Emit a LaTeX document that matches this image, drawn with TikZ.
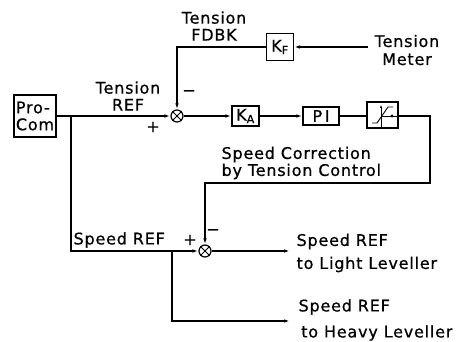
\documentclass[tikz,border=0pt]{standalone}
\usepackage{fontspec}
\setmainfont[LetterSpace=5, FakeBold=0.7]{DejaVu Sans}
\usetikzlibrary{arrows.meta, positioning, calc}

\begin{document}
\begin{tikzpicture}[x=1pt, y=-1pt, line width=1.2pt,
    >={Latex[length=6pt,width=3.5pt]},
    block/.style={draw, line width=1.2pt, inner sep=1pt, font=\fontsize{16}{17}\selectfont},
    sumpt/.style={draw, circle, line width=1.2pt, minimum size=12pt, inner sep=0pt},
    lbl/.style={font=\fontsize{16}{17}\selectfont, align=center, inner sep=0pt}
]
    \useasboundingbox (0,0) rectangle (474,342);

    % Blocks
    \node[block, minimum width=42pt, minimum height=42pt, align=left] (pc) at (35,116) {Pro-\\Com};
    \node[sumpt] (s1) at (177,116) {};
    \node[block, minimum width=27pt, minimum height=20pt] (ka) at (245.5,116) {K\textsubscript{A}};
    \node[block, minimum width=36pt, minimum height=18pt] (pi) at (321,116) {P\,I};
    \node[block, minimum width=31pt, minimum height=26pt] (lim) at (382.5,115) {};
    \node[block, minimum width=27pt, minimum height=27pt] (kf) at (280,47) {K\textsubscript{F}};
    \node[sumpt] (s2) at (205,251) {};

    % Crosses in the summing points
    \foreach \s in {s1, s2} {
        \draw[line width=0.9pt] (\s.north east) -- (\s.south west);
        \draw[line width=0.9pt] (\s.north west) -- (\s.south east);
    }

    % Limiter curve
    \draw[line width=0.9pt] (372,123) -- (377,123) -- (388,107) -- (393,107);
    \draw[line width=0.9pt, -{Latex[length=3pt,width=2.5pt]}] (381,127) -- (381,105);
    \draw[line width=0.9pt] (381,116) -- (lim.east |- 0,116);
    \fill (392,116) circle (1.6pt);

    % Free ends
    \coordinate (meter) at (368,47);
    \coordinate (br1) at (71,116);
    \coordinate (br2) at (172,251);
    \coordinate (rc) at (430,183);
    \coordinate (lightend) at (290,251);
    \coordinate (heavyend) at (290,321);

    % Connectors
    \draw[->] (pc.east |- s1) -- (s1.west);
    \draw[->] (s1.east) -- (ka.west);
    \draw[->] (ka.east) -- (pi.west);
    \draw (pi.east) -- (lim.west |- pi.east);
    \draw[->] (lim.east |- 0,116) -| (rc) -| (s2.north);
    \draw[->] (meter) -- (kf.east);
    \draw[->] (kf.west) -| (s1.north);
    \draw[->] (br1) |- (s2.west);
    \draw[->] (s2.east) -- (lightend);
    \draw[->] (br2) |- (heavyend);

    % Labels
    \node[lbl] (tref) at (128,96) {Tension\\REF};
    \node[lbl] (tfdbk) at (214,26) {Tension\\FDBK};
    \node[lbl] (tmeter) at (407,50) {Tension\\[1pt]Meter};
    \node[lbl, align=left, anchor=west] (corr) at (221,163) {Speed Correction\\by Tension Control};
    \node[lbl, anchor=west] (sref) at (73,240) {Speed REF};
    \node[lbl, align=left, anchor=west] (ltxt) at (296,253) {Speed REF\\[6pt]to Light Leveller};
    \node[lbl, align=left, anchor=west] (htxt) at (298,320) {Speed REF\\[9pt]\,to Heavy Leveller};
    \node[lbl] (p1) at (153,127) {+};
    \node[lbl] (m1) at (189,93) {−};
    \node[lbl] (p2) at (190,240) {+};
    \node[lbl] (m2) at (213,232) {−};
\end{tikzpicture}
\end{document}
